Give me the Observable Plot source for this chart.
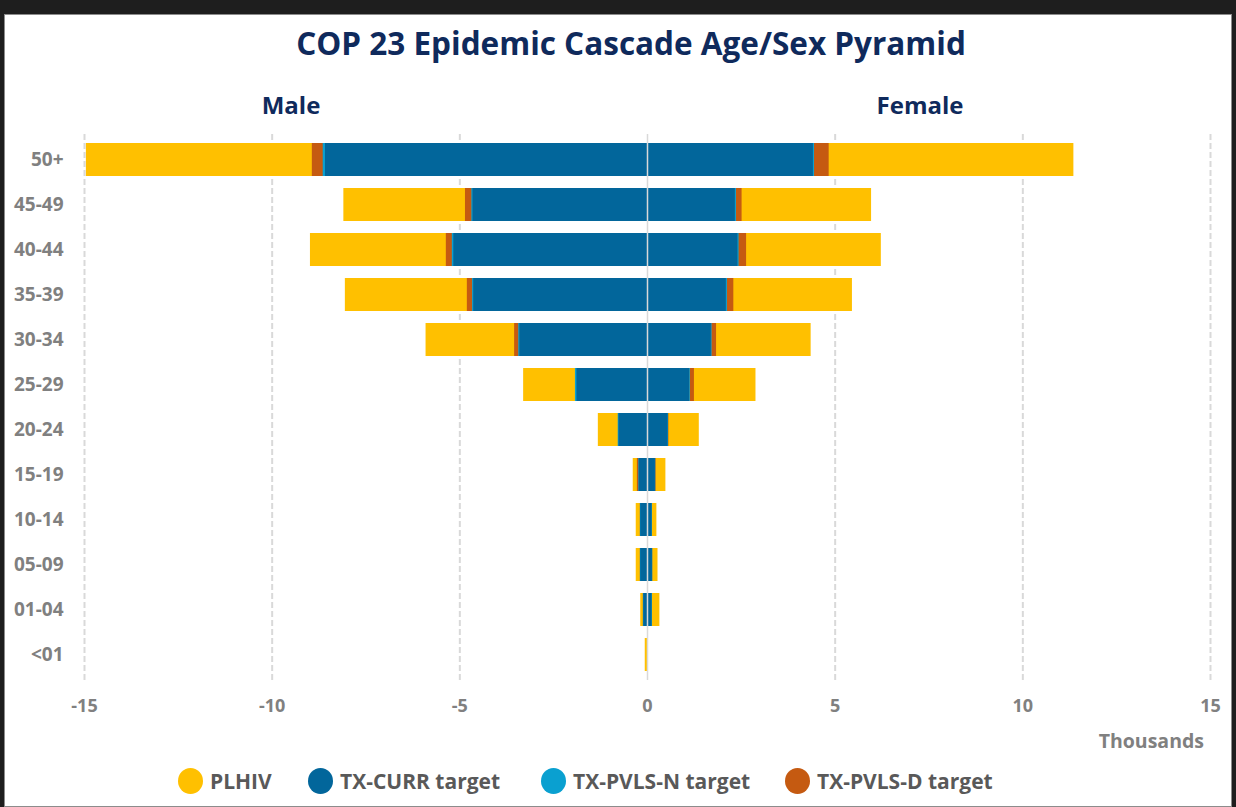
<!DOCTYPE html>
<html>
<head>
<meta charset="utf-8">
<script src="https://cdn.jsdelivr.net/npm/d3@7"></script>
<script src="https://cdn.jsdelivr.net/npm/@observablehq/plot@0.6"></script>
<style>
  html, body { margin: 0; padding: 0; }
  body { width: 1236px; height: 807px; background: #1e1e1e; position: relative; overflow: hidden; font-family: "Open Sans", sans-serif; }
  #panel { position: absolute; left: 4px; top: 14px; width: 1226px; height: 791px; background: #fff; border: 1px solid #8c8c8c; }
  .t { position: absolute; white-space: nowrap; font-weight: 700; line-height: 1; }
  #title { left: 0; width: 1262px; text-align: center; top: 27px; font-size: 31.5px; color: #0f2a5c; }
  .side { top: 93px; font-size: 24px; color: #0f2a5c; transform: translateX(-50%); }
  #thousands { top: 731px; right: 32px; font-size: 19.5px; color: #808080; }
  #chart { position: absolute; left: 0; top: 120px; }
  .leg { position: absolute; top: 767px; display: flex; align-items: center; font-weight: 700; font-size: 21px; color: #595959; white-space: nowrap; }
  .dot { width: 25px; height: 26px; border-radius: 50%; margin-right: 7px; }
</style>
</head>
<body>
<div id="panel"></div>
<div class="t" id="title">COP 23 Epidemic Cascade Age/Sex Pyramid</div>
<div class="t side" style="left:291px">Male</div>
<div class="t side" style="left:920px">Female</div>
<div id="chart"></div>
<div class="t" id="thousands">Thousands</div>
<div id="legend"></div>
<script>
// Age groups (top to bottom)
const ages = ["50+","45-49","40-44","35-39","30-34","25-29","20-24","15-19","10-14","05-09","01-04","<01"];

// Values in thousands
const malePLHIV  = [14.95, 8.09, 8.98, 8.05, 5.90, 3.30, 1.31, 0.38, 0.30, 0.30, 0.18, 0.06];
const maleTxCurr = [8.58, 4.65, 5.16, 4.63, 3.40, 1.88, 0.76, 0.22, 0.18, 0.18, 0.10, 0];
const malePvlsN  = [8.64, 4.68, 5.20, 4.66, 3.43, 1.92, 0.78, 0.23, 0.19, 0.19, 0.11, 0];
const malePvlsD  = [8.93, 4.85, 5.36, 4.80, 3.54, 1.90, 0.76, 0.27, 0.19, 0.19, 0.11, 0];

const femalePLHIV  = [11.36, 5.97, 6.23, 5.46, 4.36, 2.89, 1.38, 0.49, 0.25, 0.28, 0.33, 0];
const femaleTxCurr = [4.42, 2.34, 2.41, 2.10, 1.70, 1.12, 0.55, 0.21, 0.12, 0.13, 0.12, 0];
const femalePvlsN  = [4.45, 2.37, 2.44, 2.13, 1.72, 1.14, 0.56, 0.22, 0.13, 0.14, 0.13, 0];
const femalePvlsD  = [4.84, 2.52, 2.64, 2.30, 1.84, 1.25, 0.57, 0.23, 0.13, 0.14, 0.13, 0];

const seriesNames = ["PLHIV", "TX-CURR target", "TX-PVLS-N target", "TX-PVLS-D target"];
const seriesColors = ["#ffc000", "#02669b", "#0aa0d0", "#c55a11"];
const xTicks = [-15, -10, -5, 0, 5, 10, 15];
const gridTicks = [-15, -10, -5, 5, 10, 15];

const maleSeries = {"PLHIV": malePLHIV, "TX-CURR target": maleTxCurr, "TX-PVLS-N target": malePvlsN, "TX-PVLS-D target": malePvlsD};
const femaleSeries = {"PLHIV": femalePLHIV, "TX-CURR target": femaleTxCurr, "TX-PVLS-N target": femalePvlsN, "TX-PVLS-D target": femalePvlsD};

function rowsFor(name) {
  return ages.flatMap((a, i) => [
    {age: a, series: name, value: -maleSeries[name][i]},
    {age: a, series: name, value: femaleSeries[name][i]}
  ]);
}
// drawing order: back to front
const drawOrder = ["PLHIV", "TX-PVLS-D target", "TX-PVLS-N target", "TX-CURR target"];
const colorOf = name => seriesColors[seriesNames.indexOf(name)];

const chart = Plot.plot({
  width: 1236,
  height: 600,
  marginLeft: 84,
  marginRight: 26,
  marginTop: 14,
  marginBottom: 40,
  style: {fontFamily: "Open Sans, sans-serif", fontWeight: 700, color: "#808080", background: "transparent"},
  x: {domain: [-15, 15], label: null},
  y: {domain: ages, paddingInner: 0.275, paddingOuter: 0.1375, label: null},
  marks: [
    Plot.ruleX(gridTicks, {stroke: "#d9d9d9", strokeWidth: 2, strokeDasharray: "6,3"}),
    ...drawOrder.map(name => Plot.barX(rowsFor(name), {x1: 0, x2: "value", y: "age", fill: colorOf(name)})),
    Plot.ruleX([0], {stroke: "#d9d9d9", strokeWidth: 1.5}),
    Plot.axisX({ticks: xTicks, tickFormat: d => String(d), tickSize: 0, tickPadding: 19, fontSize: 18, label: null}),
    Plot.axisY({tickSize: 0, tickPadding: 21, fontSize: 19, label: null})
  ]
});
document.getElementById("chart").appendChild(chart);

// Legend
const legendX = [178, 308, 541, 785];
const legend = document.getElementById("legend");
seriesNames.forEach((name, i) => {
  const item = document.createElement("div");
  item.className = "leg";
  item.style.left = legendX[i] + "px";
  item.innerHTML = `<span class="dot" style="background:${seriesColors[i]}"></span><span>${name}</span>`;
  legend.appendChild(item);
});
</script>
</body>
</html>
